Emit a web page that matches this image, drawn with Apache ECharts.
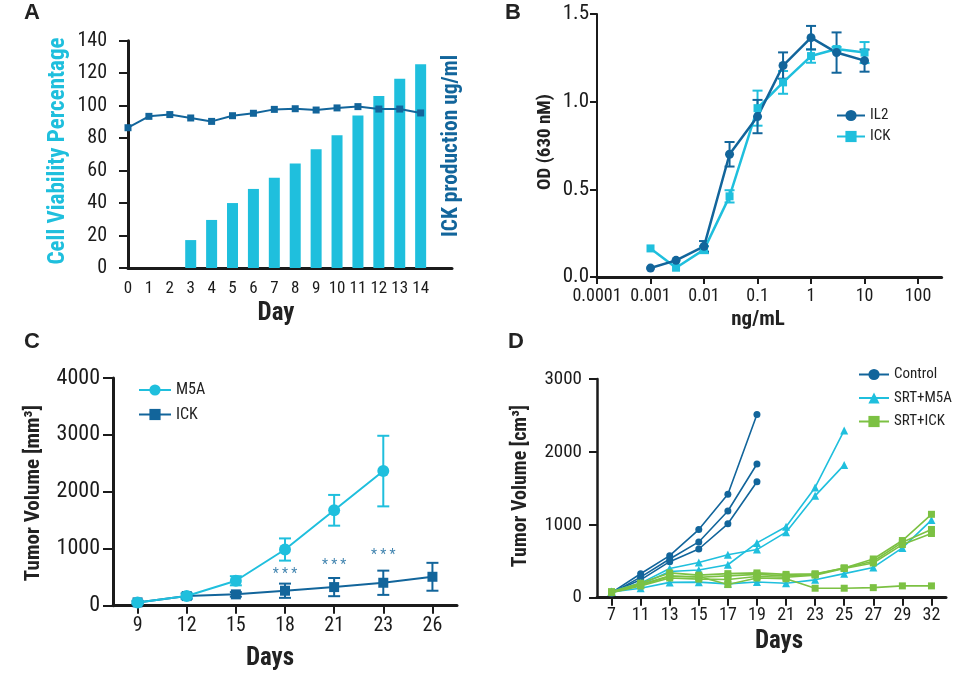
<!DOCTYPE html>
<html><head><meta charset="utf-8">
<script src="https://cdn.jsdelivr.net/npm/echarts@6/dist/echarts.min.js"></script>
<style>html,body{margin:0;padding:0;background:#fff}#c{width:962px;height:678px}</style>
</head><body><div id="c"></div>
<script>
// ---------- Panel A ----------
const daysA = [0,1,2,3,4,5,6,7,8,9,10,11,12,13,14];
const ickProduction = [0,0,0,17.2,29.6,40,48.7,55.6,64.3,73.1,81.7,94,106,116.6,125.5];
const cellViability = [86.4,93.4,94.5,92.4,90.3,93.8,95.3,97.7,98.1,97.3,98.6,99.4,97.9,97.9,95.5];
// ---------- Panel B ----------
const concB = [0.001,0.003,0.01,0.03,0.1,0.3,1,3,10];
const il2OD = [0.051,0.095,0.175,0.70,0.915,1.206,1.365,1.28,1.234];
const il2Err = [0,0,0.03,0.07,0.095,0.075,0.067,0.115,0.063];
const ickOD = [0.163,0.053,0.156,0.46,0.963,1.11,1.26,1.30,1.28];
const ickErrB = [0,0,0.02,0.035,0.1,0.065,0.038,0.012,0.06];
const tickLabelsB = ['0.0001','0.001','0.01','0.1','1','10','100'];
// ---------- Panel C ----------
const daysC = ['9','12','15','18','21','23','26'];
const m5aVol = [58,169,438,987,1676,2365,null];
const m5aErr = [30,50,80,195,270,620,null];
const ickVolC = [58,169,199,263,327,403,508];
const ickErrC = [20,40,40,125,160,213,245];
const sigDays = ['18','21','23'];
const sigLevel = [550,710,890];
// ---------- Panel D ----------
const daysD = ['7','11','13','15','17','19','21','23','25','27','29','32'];
const control1 = [70,328,577,935,1419,2512];
const control2 = [60,282,531,765,1189,1834];
const control3 = [70,245,494,668,1014,1590];
const srtM5a1 = [85,200,400,484,590,660,899,1397,1822];
const srtM5a2 = [80,180,360,380,452,752,973,1513,2295];
const srtM5a3 = [80,130,210,213,190,215,199,245,330,415,683,1065];
const srtIck1 = [80,200,340,310,330,340,320,328,407,531,784,1144];
const srtIck2 = [80,180,300,280,300,320,300,320,407,500,760,936];
const srtIck3 = [70,160,270,255,250,290,280,310,400,476,729,881];
const srtIck4 = [75,170,290,290,180,270,260,130,130,138,162,162];

const FN = '"Roboto Condensed","Liberation Sans Narrow","Arial Narrow","DejaVu Sans Condensed",Roboto,sans-serif';
const LIGHT = '#1fbfdd', DARK = '#12659b', GREEN = '#7cc143', INK = '#1b1b1b';

function errSeries(xi, data, color, cap, lw) {
  return {type:'custom', xAxisIndex:xi, yAxisIndex:xi, data:data, encode:{x:0,y:[1,2]}, z:3, silent:true,
    renderItem:function(params, api){
      const x=api.value(0), lo=api.value(1), hi=api.value(2);
      const a=api.coord([x,lo]), b=api.coord([x,hi]);
      const st={stroke:color, lineWidth:lw};
      return {type:'group', children:[
        {type:'line', shape:{x1:a[0],y1:a[1],x2:b[0],y2:b[1]}, style:st},
        {type:'line', shape:{x1:a[0]-cap,y1:a[1],x2:a[0]+cap,y2:a[1]}, style:st},
        {type:'line', shape:{x1:b[0]-cap,y1:b[1],x2:b[0]+cap,y2:b[1]}, style:st}]};
    }};
}
const il2ErrData = concB.map((c,i)=> il2Err[i] ? [Math.log10(c), il2OD[i]-il2Err[i], il2OD[i]+il2Err[i]] : null).filter(Boolean);
const ickErrDataB = concB.map((c,i)=> ickErrB[i] ? [Math.log10(c), ickOD[i]-ickErrB[i], ickOD[i]+ickErrB[i]] : null).filter(Boolean);
const m5aErrData = daysC.map((d,i)=> m5aErr[i] ? [i, m5aVol[i]-m5aErr[i], m5aVol[i]+m5aErr[i]] : null).filter(Boolean);
const ickErrDataC = daysC.map((d,i)=> ickErrC[i] ? [i, ickVolC[i]-ickErrC[i], ickVolC[i]+ickErrC[i]] : null).filter(Boolean);

function yAx(idx, min, max, interval, fs, margin, lw, tickLen, fmt){
  return {type:'value', gridIndex:idx, min:min, max:max, interval:interval,
    axisLine:{show:true, onZero:false, lineStyle:{color:INK, width:lw}},
    axisTick:{show:true, length:tickLen, lineStyle:{color:INK, width:2}},
    axisLabel:{fontFamily:FN, fontSize:fs, color:INK, margin:margin, formatter:fmt || (v => String(v))},
    splitLine:{show:false}};
}
const lineSeries = (name, xi, data, color, symbol, size, lw, z) => ({
  type:'line', name:name, xAxisIndex:xi, yAxisIndex:xi, data:data, symbol:symbol, symbolSize:size,
  showAllSymbol:true, itemStyle:{color:color}, lineStyle:{color:color, width:lw}, z:z||4, animation:false});

const option = {
  backgroundColor:'#fff',
  animation:false,
  grid:[
    {left:128, top:40.7, width:324, height:227.3, outerBoundsMode:'none'},
    {left:597, top:14, width:344.6, height:263, outerBoundsMode:'none'},
    {left:113, top:378, width:344, height:227.7, outerBoundsMode:'none'},
    {left:597, top:379, width:349, height:218.7, outerBoundsMode:'none'}
  ],
  xAxis:[
    {type:'value', gridIndex:0, min:0, max:15.5, interval:1,
      axisLine:{show:true, onZero:false, lineStyle:{color:INK, width:3}}, axisTick:{show:false},
      axisLabel:{fontFamily:FN, fontSize:17, color:INK, margin:12, formatter:v => v<=14 ? String(v) : ''},
      splitLine:{show:false}},
    {type:'value', gridIndex:1, min:-4, max:2.44,
      axisLine:{show:true, onZero:false, lineStyle:{color:INK, width:3}},
      axisTick:{show:true, length:7, lineStyle:{color:INK, width:2}, customValues:[-4,-3,-2,-1,0,1,2]},
      axisLabel:{fontFamily:FN, fontSize:18, color:INK, margin:10, customValues:[-4,-3,-2,-1,0,1,2],
        formatter:v => tickLabelsB[Math.round(v)+4]},
      splitLine:{show:false}},
    {type:'category', gridIndex:2, data:daysC, boundaryGap:true,
      axisLine:{show:true, onZero:false, lineStyle:{color:INK, width:3}},
      axisTick:{show:true, alignWithLabel:true, length:8, lineStyle:{color:INK, width:2}},
      axisLabel:{fontFamily:FN, fontSize:20, color:INK, margin:10}},
    {type:'category', gridIndex:3, data:daysD, boundaryGap:true,
      axisLine:{show:true, onZero:false, lineStyle:{color:INK, width:3}},
      axisTick:{show:true, alignWithLabel:true, length:8, lineStyle:{color:INK, width:2}},
      axisLabel:{fontFamily:FN, fontSize:18, color:INK, margin:9}}
  ],
  yAxis:[
    yAx(0, 0, 140, 20, 20, 21, 3, 9),
    yAx(1, 0, 1.5, 0.5, 21, 8, 2, 7, v => v.toFixed(1)),
    yAx(2, 0, 4000, 1000, 22, 13, 3, 10),
    yAx(3, 0, 3000, 1000, 19, 15, 2.5, 8)
  ],
  legend:[
    {data:['B:IL2','B:ICK'], left:831, top:103, orient:'vertical', itemWidth:28, itemHeight:14, itemGap:6,
      formatter:n => n.slice(2), textStyle:{fontFamily:FN, fontSize:15, color:'#222'}},
    {data:['C:M5A','C:ICK'], left:133, top:377, orient:'vertical', itemWidth:32, itemHeight:14, itemGap:8.5,
      formatter:n => n.slice(2), textStyle:{fontFamily:FN, fontSize:16, color:'#222'}},
    {data:['D:Control','D:SRT+M5A','D:SRT+ICK'], left:853, top:362, orient:'vertical', itemWidth:30, itemHeight:14, itemGap:8.5,
      formatter:n => n.slice(2), textStyle:{fontFamily:FN, fontSize:15, color:'#222'}}
  ],
  series:[
    {type:'bar', name:'ICK production', xAxisIndex:0, yAxisIndex:0, barWidth:11,
      data:daysA.map((d,i)=>[d, ickProduction[i]]), itemStyle:{color:LIGHT}},
    lineSeries('Cell viability', 0, daysA.map((d,i)=>[d, cellViability[i]]), DARK, 'rect', 7, 2),
    // B
    errSeries(1, ickErrDataB, LIGHT, 5, 2),
    errSeries(1, il2ErrData, DARK, 5, 2),
    lineSeries('B:ICK', 1, concB.map((c,i)=>[Math.log10(c), ickOD[i]]), LIGHT, 'rect', 8, 2.5),
    lineSeries('B:IL2', 1, concB.map((c,i)=>[Math.log10(c), il2OD[i]]), DARK, 'circle', 9, 2.5),
    // C
    errSeries(2, ickErrDataC, DARK, 6, 2),
    errSeries(2, m5aErrData, LIGHT, 6, 2),
    lineSeries('C:ICK', 2, ickVolC, DARK, 'rect', 10, 2),
    lineSeries('C:M5A', 2, m5aVol, LIGHT, 'circle', 12, 2, 5),
    {type:'scatter', xAxisIndex:2, yAxisIndex:2, symbolSize:1, itemStyle:{color:'rgba(0,0,0,0)'},
      data:sigDays.map((d,i)=>[d, sigLevel[i]]),
      label:{show:true, position:'inside', formatter:'* * *', fontFamily:FN, fontSize:14, color:DARK}},
    // D
    lineSeries('D:Control', 3, control1, DARK, 'circle', 7, 1.6),
    lineSeries('D:Control', 3, control2, DARK, 'circle', 7, 1.6),
    lineSeries('D:Control', 3, control3, DARK, 'circle', 7, 1.6),
    lineSeries('D:SRT+M5A', 3, srtM5a1, LIGHT, 'triangle', 8, 1.6),
    lineSeries('D:SRT+M5A', 3, srtM5a2, LIGHT, 'triangle', 8, 1.6),
    lineSeries('D:SRT+M5A', 3, srtM5a3, LIGHT, 'triangle', 8, 1.6),
    lineSeries('D:SRT+ICK', 3, srtIck1, GREEN, 'rect', 7, 1.6),
    lineSeries('D:SRT+ICK', 3, srtIck2, GREEN, 'rect', 7, 1.6),
    lineSeries('D:SRT+ICK', 3, srtIck3, GREEN, 'rect', 7, 1.6),
    lineSeries('D:SRT+ICK', 3, srtIck4, GREEN, 'rect', 7, 1.6)
  ],
  graphic:[
    {type:'text', x:32, y:13, style:{text:'A', font:'bold 22px "Liberation Sans", Roboto, sans-serif', fill:'#222', align:'center', verticalAlign:'middle'}},
    {type:'text', x:513, y:13, style:{text:'B', font:'bold 22px "Liberation Sans", Roboto, sans-serif', fill:'#222', align:'center', verticalAlign:'middle'}},
    {type:'text', x:32, y:342, style:{text:'C', font:'bold 22px "Liberation Sans", Roboto, sans-serif', fill:'#222', align:'center', verticalAlign:'middle'}},
    {type:'text', x:516, y:342, style:{text:'D', font:'bold 22px "Liberation Sans", Roboto, sans-serif', fill:'#222', align:'center', verticalAlign:'middle'}},
    {type:'text', x:58, y:151, rotation:Math.PI/2, style:{text:'Cell Viability Percentage', font:'bold 23px '+FN, fill:LIGHT, align:'center', verticalAlign:'middle'}},
    {type:'text', x:452, y:146, rotation:Math.PI/2, style:{text:'ICK production ug/ml', font:'bold 21.5px '+FN, fill:DARK, align:'center', verticalAlign:'middle'}},
    {type:'text', x:276, y:314, style:{text:'Day', font:'bold 25px '+FN, fill:'#222', align:'center', verticalAlign:'middle'}},
    {type:'text', x:545, y:142, rotation:Math.PI/2, style:{text:'OD (630 nM)', font:'bold 19px '+FN, fill:'#222', align:'center', verticalAlign:'middle'}},
    {type:'text', x:758, y:320, style:{text:'ng/mL', font:'bold 21px '+FN, fill:'#222', align:'center', verticalAlign:'middle'}},
    {type:'text', x:34, y:493, rotation:Math.PI/2, style:{text:'Tumor Volume [mm³]', font:'bold 21px '+FN, fill:'#222', align:'center', verticalAlign:'middle'}},
    {type:'text', x:270, y:659, style:{text:'Days', font:'bold 25px '+FN, fill:'#222', align:'center', verticalAlign:'middle'}},
    {type:'text', x:521, y:486, rotation:Math.PI/2, style:{text:'Tumor Volume [cm³]', font:'bold 20px '+FN, fill:'#222', align:'center', verticalAlign:'middle'}},
    {type:'text', x:779, y:642, style:{text:'Days', font:'bold 25px '+FN, fill:'#222', align:'center', verticalAlign:'middle'}}
  ]
};
const chart = echarts.init(document.getElementById('c'), null, {renderer:'canvas'});
chart.setOption(option);
</script></body></html>
